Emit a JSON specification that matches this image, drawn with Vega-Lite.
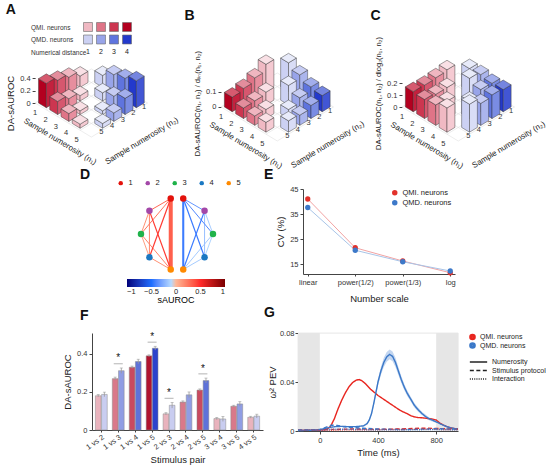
{
  "$schema": "https://vega.github.io/schema/vega-lite/v6.json",
  "background": "white",
  "padding": {"left": 5, "right": 2, "top": 3, "bottom": 2},
  "config": {
    "font": "Liberation Sans",
    "view": {"stroke": null},
    "axis": {"labelFontSize": 7.5, "titleFontSize": 9.5, "titleFontWeight": "normal", "labelColor": "#333", "titleColor": "#222", "domainColor": "#444", "tickColor": "#444", "tickSize": 3, "grid": false, "titlePadding": 4, "labelPadding": 2},
    "title": {"fontSize": 14, "fontWeight": "bold", "anchor": "start", "offset": 0, "color": "#111"},
    "legend": {"labelFontSize": 7.5, "labelColor": "#222", "titleFontWeight": "normal", "rowPadding": 1, "padding": 0, "labelLimit": 200}
  },
  "datasets": {
    "bars3d": [
      {"p": "A", "g": "QMI", "n1": 1, "n2": 2, "v": 0.18},
      {"p": "A", "g": "QMD", "n1": 2, "n2": 1, "v": 0.19},
      {"p": "A", "g": "QMI", "n1": 1, "n2": 3, "v": 0.27},
      {"p": "A", "g": "QMD", "n1": 3, "n2": 1, "v": 0.31},
      {"p": "A", "g": "QMI", "n1": 1, "n2": 4, "v": 0.33},
      {"p": "A", "g": "QMI", "n1": 2, "n2": 3, "v": 0.085},
      {"p": "A", "g": "QMD", "n1": 4, "n2": 1, "v": 0.36},
      {"p": "A", "g": "QMD", "n1": 3, "n2": 2, "v": 0.13},
      {"p": "A", "g": "QMI", "n1": 1, "n2": 5, "v": 0.39},
      {"p": "A", "g": "QMI", "n1": 2, "n2": 4, "v": 0.145},
      {"p": "A", "g": "QMD", "n1": 5, "n2": 1, "v": 0.43},
      {"p": "A", "g": "QMD", "n1": 4, "n2": 2, "v": 0.185},
      {"p": "A", "g": "QMI", "n1": 2, "n2": 5, "v": 0.21},
      {"p": "A", "g": "QMI", "n1": 3, "n2": 4, "v": 0.06},
      {"p": "A", "g": "QMD", "n1": 5, "n2": 2, "v": 0.26},
      {"p": "A", "g": "QMD", "n1": 4, "n2": 3, "v": 0.06},
      {"p": "A", "g": "QMI", "n1": 3, "n2": 5, "v": 0.125},
      {"p": "A", "g": "QMD", "n1": 5, "n2": 3, "v": 0.135},
      {"p": "A", "g": "QMI", "n1": 4, "n2": 5, "v": 0.065},
      {"p": "A", "g": "QMD", "n1": 5, "n2": 4, "v": 0.075},
      {"p": "B", "g": "QMI", "n1": 1, "n2": 2, "v": 0.18},
      {"p": "B", "g": "QMD", "n1": 2, "n2": 1, "v": 0.19},
      {"p": "B", "g": "QMI", "n1": 1, "n2": 3, "v": 0.135},
      {"p": "B", "g": "QMD", "n1": 3, "n2": 1, "v": 0.155},
      {"p": "B", "g": "QMI", "n1": 1, "n2": 4, "v": 0.11},
      {"p": "B", "g": "QMI", "n1": 2, "n2": 3, "v": 0.085},
      {"p": "B", "g": "QMD", "n1": 4, "n2": 1, "v": 0.12},
      {"p": "B", "g": "QMD", "n1": 3, "n2": 2, "v": 0.13},
      {"p": "B", "g": "QMI", "n1": 1, "n2": 5, "v": 0.0975},
      {"p": "B", "g": "QMI", "n1": 2, "n2": 4, "v": 0.0725},
      {"p": "B", "g": "QMD", "n1": 5, "n2": 1, "v": 0.1075},
      {"p": "B", "g": "QMD", "n1": 4, "n2": 2, "v": 0.0925},
      {"p": "B", "g": "QMI", "n1": 2, "n2": 5, "v": 0.07},
      {"p": "B", "g": "QMI", "n1": 3, "n2": 4, "v": 0.06},
      {"p": "B", "g": "QMD", "n1": 5, "n2": 2, "v": 0.0867},
      {"p": "B", "g": "QMD", "n1": 4, "n2": 3, "v": 0.06},
      {"p": "B", "g": "QMI", "n1": 3, "n2": 5, "v": 0.0625},
      {"p": "B", "g": "QMD", "n1": 5, "n2": 3, "v": 0.0675},
      {"p": "B", "g": "QMI", "n1": 4, "n2": 5, "v": 0.065},
      {"p": "B", "g": "QMD", "n1": 5, "n2": 4, "v": 0.075},
      {"p": "C", "g": "QMI", "n1": 1, "n2": 2, "v": 0.18},
      {"p": "C", "g": "QMD", "n1": 2, "n2": 1, "v": 0.19},
      {"p": "C", "g": "QMI", "n1": 1, "n2": 3, "v": 0.17},
      {"p": "C", "g": "QMD", "n1": 3, "n2": 1, "v": 0.196},
      {"p": "C", "g": "QMI", "n1": 1, "n2": 4, "v": 0.165},
      {"p": "C", "g": "QMI", "n1": 2, "n2": 3, "v": 0.145},
      {"p": "C", "g": "QMD", "n1": 4, "n2": 1, "v": 0.18},
      {"p": "C", "g": "QMD", "n1": 3, "n2": 2, "v": 0.222},
      {"p": "C", "g": "QMI", "n1": 1, "n2": 5, "v": 0.168},
      {"p": "C", "g": "QMI", "n1": 2, "n2": 4, "v": 0.145},
      {"p": "C", "g": "QMD", "n1": 5, "n2": 1, "v": 0.185},
      {"p": "C", "g": "QMD", "n1": 4, "n2": 2, "v": 0.185},
      {"p": "C", "g": "QMI", "n1": 2, "n2": 5, "v": 0.159},
      {"p": "C", "g": "QMI", "n1": 3, "n2": 4, "v": 0.145},
      {"p": "C", "g": "QMD", "n1": 5, "n2": 2, "v": 0.197},
      {"p": "C", "g": "QMD", "n1": 4, "n2": 3, "v": 0.145},
      {"p": "C", "g": "QMI", "n1": 3, "n2": 5, "v": 0.17},
      {"p": "C", "g": "QMD", "n1": 5, "n2": 3, "v": 0.183},
      {"p": "C", "g": "QMI", "n1": 4, "n2": 5, "v": 0.202},
      {"p": "C", "g": "QMD", "n1": 5, "n2": 4, "v": 0.233}
    ],
    "grid3d": [{"k": 0.5}, {"k": 1.5}, {"k": 2.5}, {"k": 3.5}, {"k": 4.5}, {"k": 5.5}],
    "nlab": [{"k": 1}, {"k": 2}, {"k": 3}, {"k": 4}, {"k": 5}],
    "axes3d": [{"ax": "n1", "lab": "Sample numerosity (n₁)"}, {"ax": "n2", "lab": "Sample numerosity (n₂)"}],
    "legA": [
      {"row": "QMI. neurons", "g": "QMI", "d": 1}, {"row": "QMI. neurons", "g": "QMI", "d": 2},
      {"row": "QMI. neurons", "g": "QMI", "d": 3}, {"row": "QMI. neurons", "g": "QMI", "d": 4},
      {"row": "QMD. neurons", "g": "QMD", "d": 1}, {"row": "QMD. neurons", "g": "QMD", "d": 2},
      {"row": "QMD. neurons", "g": "QMD", "d": 3}, {"row": "QMD. neurons", "g": "QMD", "d": 4},
      {"row": "Numerical distance", "g": "", "d": 1}, {"row": "Numerical distance", "g": "", "d": 2},
      {"row": "Numerical distance", "g": "", "d": 3}, {"row": "Numerical distance", "g": "", "d": 4}
    ],
    "nodes": [
      {"side": "L", "n": 1}, {"side": "L", "n": 2}, {"side": "L", "n": 3}, {"side": "L", "n": 4}, {"side": "L", "n": 5},
      {"side": "R", "n": 1}, {"side": "R", "n": 2}, {"side": "R", "n": 3}, {"side": "R", "n": 4}, {"side": "R", "n": 5}
    ],
    "edges": [
      {"side": "L", "a": 3, "b": 4, "s": 0.1, "w": 1}, {"side": "L", "a": 2, "b": 3, "s": 0.15, "w": 1},
      {"side": "L", "a": 4, "b": 5, "s": 0.15, "w": 1}, {"side": "L", "a": 2, "b": 4, "s": 0.2, "w": 1},
      {"side": "L", "a": 3, "b": 5, "s": 0.2, "w": 1}, {"side": "L", "a": 1, "b": 3, "s": 0.25, "w": 1},
      {"side": "L", "a": 1, "b": 2, "s": 0.3, "w": 1}, {"side": "L", "a": 1, "b": 5, "s": 0.33, "w": 2.4},
      {"side": "L", "a": 2, "b": 5, "s": 0.45, "w": 1.1}, {"side": "L", "a": 1, "b": 4, "s": 0.45, "w": 1.1},
      {"side": "R", "a": 3, "b": 4, "s": -0.12, "w": 1}, {"side": "R", "a": 2, "b": 3, "s": -0.15, "w": 1},
      {"side": "R", "a": 4, "b": 5, "s": -0.15, "w": 1}, {"side": "R", "a": 3, "b": 5, "s": -0.15, "w": 1},
      {"side": "R", "a": 2, "b": 4, "s": -0.2, "w": 1}, {"side": "R", "a": 1, "b": 2, "s": -0.35, "w": 1},
      {"side": "R", "a": 1, "b": 3, "s": -0.4, "w": 1}, {"side": "R", "a": 1, "b": 4, "s": -0.45, "w": 1.1},
      {"side": "R", "a": 2, "b": 5, "s": -0.45, "w": 1.1}, {"side": "R", "a": 1, "b": 5, "s": -0.45, "w": 1.5}
    ],
    "cv": [
      {"sc": "linear", "g": "QMI. neurons", "cv": 41.0},
      {"sc": "power(1/2)", "g": "QMI. neurons", "cv": 21.5},
      {"sc": "power(1/3)", "g": "QMI. neurons", "cv": 16.2},
      {"sc": "log", "g": "QMI. neurons", "cv": 11.5},
      {"sc": "linear", "g": "QMD. neurons", "cv": 37.6},
      {"sc": "power(1/2)", "g": "QMD. neurons", "cv": 20.5},
      {"sc": "power(1/3)", "g": "QMD. neurons", "cv": 15.9},
      {"sc": "log", "g": "QMD. neurons", "cv": 12.2}
    ],
    "pairs": [
      {"pair": "1 vs 2", "g": "QMI", "d": 1, "v": 0.18, "se": 0.006, "sig": false},
      {"pair": "1 vs 2", "g": "QMD", "d": 1, "v": 0.187, "se": 0.012, "sig": false},
      {"pair": "1 vs 3", "g": "QMI", "d": 2, "v": 0.27, "se": 0.008, "sig": true},
      {"pair": "1 vs 3", "g": "QMD", "d": 2, "v": 0.312, "se": 0.014, "sig": true},
      {"pair": "1 vs 4", "g": "QMI", "d": 3, "v": 0.33, "se": 0.006, "sig": false},
      {"pair": "1 vs 4", "g": "QMD", "d": 3, "v": 0.36, "se": 0.012, "sig": false},
      {"pair": "1 vs 5", "g": "QMI", "d": 4, "v": 0.39, "se": 0.005, "sig": true},
      {"pair": "1 vs 5", "g": "QMD", "d": 4, "v": 0.43, "se": 0.01, "sig": true},
      {"pair": "2 vs 3", "g": "QMI", "d": 1, "v": 0.085, "se": 0.006, "sig": true},
      {"pair": "2 vs 3", "g": "QMD", "d": 1, "v": 0.13, "se": 0.015, "sig": true},
      {"pair": "2 vs 4", "g": "QMI", "d": 2, "v": 0.147, "se": 0.006, "sig": false},
      {"pair": "2 vs 4", "g": "QMD", "d": 2, "v": 0.185, "se": 0.015, "sig": false},
      {"pair": "2 vs 5", "g": "QMI", "d": 3, "v": 0.21, "se": 0.006, "sig": true},
      {"pair": "2 vs 5", "g": "QMD", "d": 3, "v": 0.26, "se": 0.013, "sig": true},
      {"pair": "3 vs 4", "g": "QMI", "d": 1, "v": 0.06, "se": 0.006, "sig": false},
      {"pair": "3 vs 4", "g": "QMD", "d": 1, "v": 0.058, "se": 0.013, "sig": false},
      {"pair": "3 vs 5", "g": "QMI", "d": 2, "v": 0.125, "se": 0.005, "sig": false},
      {"pair": "3 vs 5", "g": "QMD", "d": 2, "v": 0.137, "se": 0.012, "sig": false},
      {"pair": "4 vs 5", "g": "QMI", "d": 1, "v": 0.067, "se": 0.005, "sig": false},
      {"pair": "4 vs 5", "g": "QMD", "d": 1, "v": 0.073, "se": 0.01, "sig": false}
    ],
    "shade": [{"t0": -150, "t1": 0}, {"t0": 800, "t1": 950}],
    "band": [
      {"t": 300, "lo": 0.0034, "hi": 0.005}, {"t": 325, "lo": 0.0051, "hi": 0.0069},
      {"t": 340, "lo": 0.0079, "hi": 0.0101}, {"t": 355, "lo": 0.0126, "hi": 0.0154},
      {"t": 370, "lo": 0.0202, "hi": 0.0238}, {"t": 385, "lo": 0.0287, "hi": 0.0333},
      {"t": 400, "lo": 0.0372, "hi": 0.0428}, {"t": 420, "lo": 0.0457, "hi": 0.0523},
      {"t": 440, "lo": 0.0523, "hi": 0.0597}, {"t": 460, "lo": 0.0566, "hi": 0.0644},
      {"t": 480, "lo": 0.0585, "hi": 0.0665}, {"t": 500, "lo": 0.057, "hi": 0.065},
      {"t": 520, "lo": 0.0523, "hi": 0.0597}, {"t": 540, "lo": 0.0457, "hi": 0.0523},
      {"t": 560, "lo": 0.0391, "hi": 0.0449}, {"t": 580, "lo": 0.0334, "hi": 0.0386},
      {"t": 600, "lo": 0.0287, "hi": 0.0333}, {"t": 625, "lo": 0.024, "hi": 0.028},
      {"t": 650, "lo": 0.0192, "hi": 0.0228}, {"t": 675, "lo": 0.0159, "hi": 0.0191},
      {"t": 700, "lo": 0.0131, "hi": 0.0159}, {"t": 750, "lo": 0.0088, "hi": 0.0112},
      {"t": 800, "lo": 0.0065, "hi": 0.0085}
    ],
    "pev": [
      {"t": -150, "g": "QMI. neurons", "f": "Numerosity", "v": 0.0005},
      {"t": -100, "g": "QMI. neurons", "f": "Numerosity", "v": 0.0005},
      {"t": -50, "g": "QMI. neurons", "f": "Numerosity", "v": 0.0006},
      {"t": 0, "g": "QMI. neurons", "f": "Numerosity", "v": 0.0008},
      {"t": 25, "g": "QMI. neurons", "f": "Numerosity", "v": 0.001},
      {"t": 50, "g": "QMI. neurons", "f": "Numerosity", "v": 0.0015},
      {"t": 75, "g": "QMI. neurons", "f": "Numerosity", "v": 0.004},
      {"t": 100, "g": "QMI. neurons", "f": "Numerosity", "v": 0.01},
      {"t": 125, "g": "QMI. neurons", "f": "Numerosity", "v": 0.018},
      {"t": 150, "g": "QMI. neurons", "f": "Numerosity", "v": 0.025},
      {"t": 175, "g": "QMI. neurons", "f": "Numerosity", "v": 0.031},
      {"t": 200, "g": "QMI. neurons", "f": "Numerosity", "v": 0.036},
      {"t": 225, "g": "QMI. neurons", "f": "Numerosity", "v": 0.0395},
      {"t": 250, "g": "QMI. neurons", "f": "Numerosity", "v": 0.0415},
      {"t": 270, "g": "QMI. neurons", "f": "Numerosity", "v": 0.042},
      {"t": 290, "g": "QMI. neurons", "f": "Numerosity", "v": 0.041},
      {"t": 310, "g": "QMI. neurons", "f": "Numerosity", "v": 0.039},
      {"t": 330, "g": "QMI. neurons", "f": "Numerosity", "v": 0.0365},
      {"t": 350, "g": "QMI. neurons", "f": "Numerosity", "v": 0.034},
      {"t": 375, "g": "QMI. neurons", "f": "Numerosity", "v": 0.0315},
      {"t": 400, "g": "QMI. neurons", "f": "Numerosity", "v": 0.029},
      {"t": 425, "g": "QMI. neurons", "f": "Numerosity", "v": 0.027},
      {"t": 450, "g": "QMI. neurons", "f": "Numerosity", "v": 0.025},
      {"t": 475, "g": "QMI. neurons", "f": "Numerosity", "v": 0.023},
      {"t": 500, "g": "QMI. neurons", "f": "Numerosity", "v": 0.021},
      {"t": 525, "g": "QMI. neurons", "f": "Numerosity", "v": 0.019},
      {"t": 550, "g": "QMI. neurons", "f": "Numerosity", "v": 0.017},
      {"t": 575, "g": "QMI. neurons", "f": "Numerosity", "v": 0.0155},
      {"t": 600, "g": "QMI. neurons", "f": "Numerosity", "v": 0.0142},
      {"t": 625, "g": "QMI. neurons", "f": "Numerosity", "v": 0.0125},
      {"t": 650, "g": "QMI. neurons", "f": "Numerosity", "v": 0.0115},
      {"t": 675, "g": "QMI. neurons", "f": "Numerosity", "v": 0.011},
      {"t": 700, "g": "QMI. neurons", "f": "Numerosity", "v": 0.0108},
      {"t": 725, "g": "QMI. neurons", "f": "Numerosity", "v": 0.0105},
      {"t": 750, "g": "QMI. neurons", "f": "Numerosity", "v": 0.0101},
      {"t": 775, "g": "QMI. neurons", "f": "Numerosity", "v": 0.0097},
      {"t": 800, "g": "QMI. neurons", "f": "Numerosity", "v": 0.009},
      {"t": 825, "g": "QMI. neurons", "f": "Numerosity", "v": 0.0065},
      {"t": 850, "g": "QMI. neurons", "f": "Numerosity", "v": 0.0048},
      {"t": 875, "g": "QMI. neurons", "f": "Numerosity", "v": 0.0035},
      {"t": 900, "g": "QMI. neurons", "f": "Numerosity", "v": 0.0026},
      {"t": 925, "g": "QMI. neurons", "f": "Numerosity", "v": 0.002},
      {"t": 950, "g": "QMI. neurons", "f": "Numerosity", "v": 0.0016},
      {"t": -150, "g": "QMD. neurons", "f": "Numerosity", "v": 0.0004},
      {"t": -100, "g": "QMD. neurons", "f": "Numerosity", "v": 0.0005},
      {"t": -50, "g": "QMD. neurons", "f": "Numerosity", "v": 0.0007},
      {"t": 0, "g": "QMD. neurons", "f": "Numerosity", "v": 0.001},
      {"t": 50, "g": "QMD. neurons", "f": "Numerosity", "v": 0.0025},
      {"t": 100, "g": "QMD. neurons", "f": "Numerosity", "v": 0.0035},
      {"t": 150, "g": "QMD. neurons", "f": "Numerosity", "v": 0.0038},
      {"t": 200, "g": "QMD. neurons", "f": "Numerosity", "v": 0.0035},
      {"t": 250, "g": "QMD. neurons", "f": "Numerosity", "v": 0.0036},
      {"t": 300, "g": "QMD. neurons", "f": "Numerosity", "v": 0.0042},
      {"t": 325, "g": "QMD. neurons", "f": "Numerosity", "v": 0.006},
      {"t": 340, "g": "QMD. neurons", "f": "Numerosity", "v": 0.009},
      {"t": 355, "g": "QMD. neurons", "f": "Numerosity", "v": 0.014},
      {"t": 370, "g": "QMD. neurons", "f": "Numerosity", "v": 0.022},
      {"t": 385, "g": "QMD. neurons", "f": "Numerosity", "v": 0.031},
      {"t": 400, "g": "QMD. neurons", "f": "Numerosity", "v": 0.04},
      {"t": 420, "g": "QMD. neurons", "f": "Numerosity", "v": 0.049},
      {"t": 440, "g": "QMD. neurons", "f": "Numerosity", "v": 0.056},
      {"t": 460, "g": "QMD. neurons", "f": "Numerosity", "v": 0.0605},
      {"t": 480, "g": "QMD. neurons", "f": "Numerosity", "v": 0.0625},
      {"t": 500, "g": "QMD. neurons", "f": "Numerosity", "v": 0.061},
      {"t": 520, "g": "QMD. neurons", "f": "Numerosity", "v": 0.056},
      {"t": 540, "g": "QMD. neurons", "f": "Numerosity", "v": 0.049},
      {"t": 560, "g": "QMD. neurons", "f": "Numerosity", "v": 0.042},
      {"t": 580, "g": "QMD. neurons", "f": "Numerosity", "v": 0.036},
      {"t": 600, "g": "QMD. neurons", "f": "Numerosity", "v": 0.031},
      {"t": 625, "g": "QMD. neurons", "f": "Numerosity", "v": 0.026},
      {"t": 650, "g": "QMD. neurons", "f": "Numerosity", "v": 0.021},
      {"t": 675, "g": "QMD. neurons", "f": "Numerosity", "v": 0.0175},
      {"t": 700, "g": "QMD. neurons", "f": "Numerosity", "v": 0.0145},
      {"t": 725, "g": "QMD. neurons", "f": "Numerosity", "v": 0.012},
      {"t": 750, "g": "QMD. neurons", "f": "Numerosity", "v": 0.01},
      {"t": 775, "g": "QMD. neurons", "f": "Numerosity", "v": 0.0088},
      {"t": 800, "g": "QMD. neurons", "f": "Numerosity", "v": 0.0075},
      {"t": 825, "g": "QMD. neurons", "f": "Numerosity", "v": 0.006},
      {"t": 850, "g": "QMD. neurons", "f": "Numerosity", "v": 0.0047},
      {"t": 875, "g": "QMD. neurons", "f": "Numerosity", "v": 0.0035},
      {"t": 900, "g": "QMD. neurons", "f": "Numerosity", "v": 0.0026},
      {"t": 925, "g": "QMD. neurons", "f": "Numerosity", "v": 0.002},
      {"t": 950, "g": "QMD. neurons", "f": "Numerosity", "v": 0.0017},
      {"t": -150, "g": "QMI. neurons", "f": "Stimulus protocol", "v": 0.0008},
      {"t": -50, "g": "QMI. neurons", "f": "Stimulus protocol", "v": 0.0009},
      {"t": 0, "g": "QMI. neurons", "f": "Stimulus protocol", "v": 0.001},
      {"t": 100, "g": "QMI. neurons", "f": "Stimulus protocol", "v": 0.0013},
      {"t": 200, "g": "QMI. neurons", "f": "Stimulus protocol", "v": 0.0016},
      {"t": 300, "g": "QMI. neurons", "f": "Stimulus protocol", "v": 0.0016},
      {"t": 400, "g": "QMI. neurons", "f": "Stimulus protocol", "v": 0.0014},
      {"t": 500, "g": "QMI. neurons", "f": "Stimulus protocol", "v": 0.0015},
      {"t": 600, "g": "QMI. neurons", "f": "Stimulus protocol", "v": 0.0019},
      {"t": 700, "g": "QMI. neurons", "f": "Stimulus protocol", "v": 0.0023},
      {"t": 800, "g": "QMI. neurons", "f": "Stimulus protocol", "v": 0.0021},
      {"t": 900, "g": "QMI. neurons", "f": "Stimulus protocol", "v": 0.0016},
      {"t": 950, "g": "QMI. neurons", "f": "Stimulus protocol", "v": 0.0014},
      {"t": -150, "g": "QMD. neurons", "f": "Stimulus protocol", "v": 0.0008},
      {"t": -50, "g": "QMD. neurons", "f": "Stimulus protocol", "v": 0.0009},
      {"t": 0, "g": "QMD. neurons", "f": "Stimulus protocol", "v": 0.0012},
      {"t": 40, "g": "QMD. neurons", "f": "Stimulus protocol", "v": 0.003},
      {"t": 80, "g": "QMD. neurons", "f": "Stimulus protocol", "v": 0.0048},
      {"t": 120, "g": "QMD. neurons", "f": "Stimulus protocol", "v": 0.0045},
      {"t": 160, "g": "QMD. neurons", "f": "Stimulus protocol", "v": 0.0036},
      {"t": 200, "g": "QMD. neurons", "f": "Stimulus protocol", "v": 0.003},
      {"t": 250, "g": "QMD. neurons", "f": "Stimulus protocol", "v": 0.0026},
      {"t": 300, "g": "QMD. neurons", "f": "Stimulus protocol", "v": 0.0022},
      {"t": 400, "g": "QMD. neurons", "f": "Stimulus protocol", "v": 0.0016},
      {"t": 500, "g": "QMD. neurons", "f": "Stimulus protocol", "v": 0.0013},
      {"t": 600, "g": "QMD. neurons", "f": "Stimulus protocol", "v": 0.0012},
      {"t": 700, "g": "QMD. neurons", "f": "Stimulus protocol", "v": 0.0015},
      {"t": 800, "g": "QMD. neurons", "f": "Stimulus protocol", "v": 0.0019},
      {"t": 900, "g": "QMD. neurons", "f": "Stimulus protocol", "v": 0.0017},
      {"t": 950, "g": "QMD. neurons", "f": "Stimulus protocol", "v": 0.0015},
      {"t": -150, "g": "QMI. neurons", "f": "Interaction", "v": 0.0005},
      {"t": 0, "g": "QMI. neurons", "f": "Interaction", "v": 0.0006},
      {"t": 150, "g": "QMI. neurons", "f": "Interaction", "v": 0.0009},
      {"t": 300, "g": "QMI. neurons", "f": "Interaction", "v": 0.001},
      {"t": 450, "g": "QMI. neurons", "f": "Interaction", "v": 0.0011},
      {"t": 600, "g": "QMI. neurons", "f": "Interaction", "v": 0.0013},
      {"t": 750, "g": "QMI. neurons", "f": "Interaction", "v": 0.0014},
      {"t": 950, "g": "QMI. neurons", "f": "Interaction", "v": 0.0011},
      {"t": -150, "g": "QMD. neurons", "f": "Interaction", "v": 0.0005},
      {"t": 0, "g": "QMD. neurons", "f": "Interaction", "v": 0.0007},
      {"t": 100, "g": "QMD. neurons", "f": "Interaction", "v": 0.0015},
      {"t": 200, "g": "QMD. neurons", "f": "Interaction", "v": 0.0014},
      {"t": 350, "g": "QMD. neurons", "f": "Interaction", "v": 0.001},
      {"t": 500, "g": "QMD. neurons", "f": "Interaction", "v": 0.0009},
      {"t": 650, "g": "QMD. neurons", "f": "Interaction", "v": 0.001},
      {"t": 800, "g": "QMD. neurons", "f": "Interaction", "v": 0.0012},
      {"t": 950, "g": "QMD. neurons", "f": "Interaction", "v": 0.001}
    ]
  },
  "spacing": -11,
  "center": false,
  "resolve": {"scale": {"color": "independent", "fill": "independent", "stroke": "independent", "strokeDash": "independent", "strokeWidth": "independent"}, "legend": {"color": "independent", "fill": "independent", "stroke": "independent", "strokeDash": "independent"}},
  "vconcat": [
    {
      "hconcat": [
        {
          "title": {"text": "A"},
          "center": true,
          "spacing": 4,
          "vconcat": [
            {
              "width": 52,
              "height": 25,
              "data": {"name": "legA"},
              "transform": [{"calculate": "datum.g + datum.d", "as": "ck"}],
              "encoding": {
                "x": {"field": "d", "type": "ordinal", "axis": null},
                "y": {"field": "row", "type": "nominal", "sort": ["QMI. neurons", "QMD. neurons", "Numerical distance"], "scale": {"padding": 0}, "axis": {"title": null, "domain": false, "ticks": false, "labelAlign": "left", "labelPadding": 51, "labelFontSize": 6.5}}
              },
              "layer": [
                {
                  "transform": [{"filter": "datum.g != ''"}],
                  "mark": {"type": "square", "size": 80, "opacity": 1, "stroke": "#666", "strokeWidth": 0.6},
                  "encoding": {
                    "fill": {"field": "ck", "type": "nominal", "scale": {"domain": ["QMI1", "QMI2", "QMI3", "QMI4", "QMD1", "QMD2", "QMD3", "QMD4"], "range": ["#f0b9c3", "#df7487", "#cc3650", "#b3001f", "#ccd1f3", "#98a4e9", "#5f74de", "#2339cc"]}, "legend": null}
                  }
                },
                {
                  "transform": [{"filter": "datum.g == ''"}],
                  "mark": {"type": "text", "fontSize": 7, "color": "#222"},
                  "encoding": {"text": {"field": "d"}}
                }
              ]
            },
            {
              "width": 135,
              "height": 115,
              "encoding": {
                "x": {"field": "px", "type": "quantitative", "scale": {"domain": [-5, 7], "nice": false, "zero": false}, "axis": null},
                "y": {"field": "py", "type": "quantitative", "stack": null, "scale": {"domain": [-1.152, 0.688], "nice": false, "zero": false}, "axis": {"values": [0, 0.2, 0.4], "format": "~g", "domain": false, "title": "DA-sAUROC", "titleFontSize": 9.5, "titleY": 43}}
              },
              "layer": [
                {
                  "data": {"name": "grid3d"},
                  "transform": [
                    {"calculate": "[datum.k, datum.k, 0.5, 5.5]", "as": "gn1"},
                    {"calculate": "[0.5, 5.5, datum.k, datum.k]", "as": "gn2"},
                    {"calculate": "['a', 'a', 'b', 'b']", "as": "gd"},
                    {"flatten": ["gn1", "gn2", "gd"]},
                    {"calculate": "datum.gn1 - datum.gn2", "as": "px"},
                    {"calculate": "(6 - datum.gn1 - datum.gn2) * 0.109", "as": "py"},
                    {"calculate": "datum.gd + datum.k", "as": "gid"}
                  ],
                  "mark": {"type": "line", "color": "#dadada", "strokeWidth": 0.5},
                  "encoding": {"detail": {"field": "gid"}}
                },
                {
                  "data": {"name": "nlab"},
                  "transform": [{"filter": "datum.k == 1"}],
                  "mark": {"type": "rule", "color": "#444", "strokeWidth": 0.7},
                  "encoding": {"x": {"datum": -5}, "y": {"datum": 0}, "y2": {"datum": 0.45}}
                },
                {
                  "data": {"name": "bars3d"},
                  "transform": [
                    {"filter": "datum.p == 'A'"},
                    {"calculate": "datum.n1 - datum.n2", "as": "X0"},
                    {"calculate": "(6 - datum.n1 - datum.n2) * 0.109", "as": "Y0"},
                    {"calculate": "[datum.X0 - 0.7, datum.X0, datum.X0, datum.X0 + 0.7, datum.X0 - 0.7, datum.X0, datum.X0 + 0.7]", "as": "px"},
                    {"calculate": "[datum.Y0, datum.Y0 - 0.0763, datum.Y0 - 0.0763, datum.Y0, datum.Y0 + datum.v, datum.Y0 - 0.0763 + datum.v, datum.Y0 + datum.v]", "as": "py"},
                    {"calculate": "[datum.Y0 + datum.v, datum.Y0 - 0.0763 + datum.v, datum.Y0 - 0.0763 + datum.v, datum.Y0 + datum.v, datum.Y0 + datum.v, datum.Y0 + 0.0763 + datum.v, datum.Y0 + datum.v]", "as": "py2"},
                    {"calculate": "['L', 'L', 'R', 'R', 'T', 'T', 'T']", "as": "ff"},
                    {"flatten": ["px", "py", "py2", "ff"]},
                    {"calculate": "datum.g + datum.n1 + datum.n2 + datum.ff", "as": "fid"},
                    {"calculate": "datum.g + abs(datum.n1 - datum.n2) + datum.ff", "as": "ck"}
                  ],
                  "mark": {"type": "area", "stroke": "#333", "strokeWidth": 0.45, "strokeJoin": "round", "opacity": 1},
                  "encoding": {
                    "y2": {"field": "py2"},
                    "color": {"field": "ck", "type": "nominal", "legend": null, "scale": {
                      "domain": ["QMI1L", "QMI1R", "QMI1T", "QMI2L", "QMI2R", "QMI2T", "QMI3L", "QMI3R", "QMI3T", "QMI4L", "QMI4R", "QMI4T", "QMD1L", "QMD1R", "QMD1T", "QMD2L", "QMD2R", "QMD2T", "QMD3L", "QMD3R", "QMD3T", "QMD4L", "QMD4R", "QMD4T"],
                      "range": ["#f0b9c3", "#f5cad2", "#f9e0e5", "#df7487", "#e78e9e", "#f0b6c0", "#cc3650", "#d6576e", "#e38d9c", "#b3001f", "#c3213e", "#d65a6f", "#ccd1f3", "#d9ddf6", "#e8ebfa", "#98a4e9", "#abb5ed", "#c6ccf3", "#5f74de", "#7a8ce3", "#a2aeec", "#2339cc", "#4256d4", "#7585e0"]}},
                    "detail": {"field": "fid"}
                  }
                },
                {
                  "data": {"name": "nlab"},
                  "transform": [{"calculate": "-5 + (datum.k - 1) * 0.92", "as": "px"}, {"calculate": "-(1.47 + (datum.k - 1) * 0.99) * 0.109", "as": "py"}],
                  "mark": {"type": "text", "fontSize": 7.5, "color": "#333"},
                  "encoding": {"text": {"field": "k"}}
                },
                {
                  "data": {"name": "nlab"},
                  "transform": [{"calculate": "0.89 + (5 - datum.k) * 0.95", "as": "px"}, {"calculate": "-(4.26 - (5 - datum.k) * 0.915) * 0.109", "as": "py"}],
                  "mark": {"type": "text", "fontSize": 7.5, "color": "#333"},
                  "encoding": {"text": {"field": "k"}}
                },
                {
                  "data": {"name": "axes3d"},
                  "transform": [{"calculate": "datum.ax == 'n1' ? -2.8 : 4.5", "as": "px"}, {"calculate": "(datum.ax == 'n1' ? -5.7 : -5.6) * 0.109", "as": "py"}, {"calculate": "datum.ax == 'n1' ? 31 : -31", "as": "ang"}],
                  "mark": {"type": "text", "fontSize": 8, "color": "#222"},
                  "encoding": {"text": {"field": "lab"}, "angle": {"field": "ang", "type": "quantitative", "scale": null}}
                }
              ]
            }
          ]
        },
        {
          "title": {"text": "B", "dx": -9},
          "width": 135,
          "height": 152,
          "encoding": {
            "x": {"field": "px", "type": "quantitative", "scale": {"domain": [-5, 7], "nice": false, "zero": false}, "axis": null},
            "y": {"field": "py", "type": "quantitative", "stack": null, "scale": {"domain": [-0.48, 0.533], "nice": false, "zero": false}, "axis": {"values": [0, 0.1], "format": "~g", "domain": false, "title": "DA-sAUROC(n₁, n₂) / dₗᵢₙ(n₁, n₂)", "titleFontSize": 7.5, "titleY": 76}}
          },
          "layer": [
            {
              "data": {"name": "grid3d"},
              "transform": [
                {"calculate": "[datum.k, datum.k, 0.5, 5.5]", "as": "gn1"},
                {"calculate": "[0.5, 5.5, datum.k, datum.k]", "as": "gn2"},
                {"calculate": "['a', 'a', 'b', 'b']", "as": "gd"},
                {"flatten": ["gn1", "gn2", "gd"]},
                {"calculate": "datum.gn1 - datum.gn2", "as": "px"},
                {"calculate": "(6 - datum.gn1 - datum.gn2) * 0.0453", "as": "py"},
                {"calculate": "datum.gd + datum.k", "as": "gid"}
              ],
              "mark": {"type": "line", "color": "#dadada", "strokeWidth": 0.5},
              "encoding": {"detail": {"field": "gid"}}
            },
            {
              "data": {"name": "nlab"},
              "transform": [{"filter": "datum.k == 1"}],
              "mark": {"type": "rule", "color": "#444", "strokeWidth": 0.7},
              "encoding": {"x": {"datum": -5}, "y": {"datum": 0}, "y2": {"datum": 0.2}}
            },
            {
              "data": {"name": "bars3d"},
              "transform": [
                {"filter": "datum.p == 'B'"},
                {"calculate": "datum.n1 - datum.n2", "as": "X0"},
                {"calculate": "(6 - datum.n1 - datum.n2) * 0.0453", "as": "Y0"},
                {"calculate": "[datum.X0 - 0.7, datum.X0, datum.X0, datum.X0 + 0.7, datum.X0 - 0.7, datum.X0, datum.X0 + 0.7]", "as": "px"},
                {"calculate": "[datum.Y0, datum.Y0 - 0.0317, datum.Y0 - 0.0317, datum.Y0, datum.Y0 + datum.v, datum.Y0 - 0.0317 + datum.v, datum.Y0 + datum.v]", "as": "py"},
                {"calculate": "[datum.Y0 + datum.v, datum.Y0 - 0.0317 + datum.v, datum.Y0 - 0.0317 + datum.v, datum.Y0 + datum.v, datum.Y0 + datum.v, datum.Y0 + 0.0317 + datum.v, datum.Y0 + datum.v]", "as": "py2"},
                {"calculate": "['L', 'L', 'R', 'R', 'T', 'T', 'T']", "as": "ff"},
                {"flatten": ["px", "py", "py2", "ff"]},
                {"calculate": "datum.g + datum.n1 + datum.n2 + datum.ff", "as": "fid"},
                {"calculate": "datum.g + abs(datum.n1 - datum.n2) + datum.ff", "as": "ck"}
              ],
              "mark": {"type": "area", "stroke": "#333", "strokeWidth": 0.45, "strokeJoin": "round", "opacity": 1},
              "encoding": {
                "y2": {"field": "py2"},
                "color": {"field": "ck", "type": "nominal", "legend": null, "scale": {
                  "domain": ["QMI1L", "QMI1R", "QMI1T", "QMI2L", "QMI2R", "QMI2T", "QMI3L", "QMI3R", "QMI3T", "QMI4L", "QMI4R", "QMI4T", "QMD1L", "QMD1R", "QMD1T", "QMD2L", "QMD2R", "QMD2T", "QMD3L", "QMD3R", "QMD3T", "QMD4L", "QMD4R", "QMD4T"],
                  "range": ["#f0b9c3", "#f5cad2", "#f9e0e5", "#df7487", "#e78e9e", "#f0b6c0", "#cc3650", "#d6576e", "#e38d9c", "#b3001f", "#c3213e", "#d65a6f", "#ccd1f3", "#d9ddf6", "#e8ebfa", "#98a4e9", "#abb5ed", "#c6ccf3", "#5f74de", "#7a8ce3", "#a2aeec", "#2339cc", "#4256d4", "#7585e0"]}},
                "detail": {"field": "fid"}
              }
            },
            {
              "data": {"name": "nlab"},
              "transform": [{"calculate": "-5 + (datum.k - 1) * 0.92", "as": "px"}, {"calculate": "-(1.47 + (datum.k - 1) * 0.99) * 0.0453", "as": "py"}],
              "mark": {"type": "text", "fontSize": 7.5, "color": "#333"},
              "encoding": {"text": {"field": "k"}}
            },
            {
              "data": {"name": "nlab"},
              "transform": [{"calculate": "0.89 + (5 - datum.k) * 0.95", "as": "px"}, {"calculate": "-(4.26 - (5 - datum.k) * 0.915) * 0.0453", "as": "py"}],
              "mark": {"type": "text", "fontSize": 7.5, "color": "#333"},
              "encoding": {"text": {"field": "k"}}
            },
            {
              "data": {"name": "axes3d"},
              "transform": [{"calculate": "datum.ax == 'n1' ? -2.8 : 4.5", "as": "px"}, {"calculate": "(datum.ax == 'n1' ? -5.7 : -5.6) * 0.0453", "as": "py"}, {"calculate": "datum.ax == 'n1' ? 31 : -31", "as": "ang"}],
              "mark": {"type": "text", "fontSize": 8, "color": "#222"},
              "encoding": {"text": {"field": "lab"}, "angle": {"field": "ang", "type": "quantitative", "scale": null}}
            }
          ]
        },
        {
          "title": {"text": "C", "dx": -4},
          "width": 135,
          "height": 152,
          "encoding": {
            "x": {"field": "px", "type": "quantitative", "scale": {"domain": [-5, 7], "nice": false, "zero": false}, "axis": null},
            "y": {"field": "py", "type": "quantitative", "stack": null, "scale": {"domain": [-0.6, 0.667], "nice": false, "zero": false}, "axis": {"values": [0, 0.1, 0.2], "format": "~g", "domain": false, "title": "DA-sAUROC(n₁, n₂) / dlog₂(n₁, n₂)", "titleFontSize": 7.5, "titleY": 66}}
          },
          "layer": [
            {
              "data": {"name": "grid3d"},
              "transform": [
                {"calculate": "[datum.k, datum.k, 0.5, 5.5]", "as": "gn1"},
                {"calculate": "[0.5, 5.5, datum.k, datum.k]", "as": "gn2"},
                {"calculate": "['a', 'a', 'b', 'b']", "as": "gd"},
                {"flatten": ["gn1", "gn2", "gd"]},
                {"calculate": "datum.gn1 - datum.gn2", "as": "px"},
                {"calculate": "(6 - datum.gn1 - datum.gn2) * 0.0567", "as": "py"},
                {"calculate": "datum.gd + datum.k", "as": "gid"}
              ],
              "mark": {"type": "line", "color": "#dadada", "strokeWidth": 0.5},
              "encoding": {"detail": {"field": "gid"}}
            },
            {
              "data": {"name": "nlab"},
              "transform": [{"filter": "datum.k == 1"}],
              "mark": {"type": "rule", "color": "#444", "strokeWidth": 0.7},
              "encoding": {"x": {"datum": -5}, "y": {"datum": 0}, "y2": {"datum": 0.25}}
            },
            {
              "data": {"name": "bars3d"},
              "transform": [
                {"filter": "datum.p == 'C'"},
                {"calculate": "datum.n1 - datum.n2", "as": "X0"},
                {"calculate": "(6 - datum.n1 - datum.n2) * 0.0567", "as": "Y0"},
                {"calculate": "[datum.X0 - 0.7, datum.X0, datum.X0, datum.X0 + 0.7, datum.X0 - 0.7, datum.X0, datum.X0 + 0.7]", "as": "px"},
                {"calculate": "[datum.Y0, datum.Y0 - 0.0397, datum.Y0 - 0.0397, datum.Y0, datum.Y0 + datum.v, datum.Y0 - 0.0397 + datum.v, datum.Y0 + datum.v]", "as": "py"},
                {"calculate": "[datum.Y0 + datum.v, datum.Y0 - 0.0397 + datum.v, datum.Y0 - 0.0397 + datum.v, datum.Y0 + datum.v, datum.Y0 + datum.v, datum.Y0 + 0.0397 + datum.v, datum.Y0 + datum.v]", "as": "py2"},
                {"calculate": "['L', 'L', 'R', 'R', 'T', 'T', 'T']", "as": "ff"},
                {"flatten": ["px", "py", "py2", "ff"]},
                {"calculate": "datum.g + datum.n1 + datum.n2 + datum.ff", "as": "fid"},
                {"calculate": "datum.g + abs(datum.n1 - datum.n2) + datum.ff", "as": "ck"}
              ],
              "mark": {"type": "area", "stroke": "#333", "strokeWidth": 0.45, "strokeJoin": "round", "opacity": 1},
              "encoding": {
                "y2": {"field": "py2"},
                "color": {"field": "ck", "type": "nominal", "legend": null, "scale": {
                  "domain": ["QMI1L", "QMI1R", "QMI1T", "QMI2L", "QMI2R", "QMI2T", "QMI3L", "QMI3R", "QMI3T", "QMI4L", "QMI4R", "QMI4T", "QMD1L", "QMD1R", "QMD1T", "QMD2L", "QMD2R", "QMD2T", "QMD3L", "QMD3R", "QMD3T", "QMD4L", "QMD4R", "QMD4T"],
                  "range": ["#f0b9c3", "#f5cad2", "#f9e0e5", "#df7487", "#e78e9e", "#f0b6c0", "#cc3650", "#d6576e", "#e38d9c", "#b3001f", "#c3213e", "#d65a6f", "#ccd1f3", "#d9ddf6", "#e8ebfa", "#98a4e9", "#abb5ed", "#c6ccf3", "#5f74de", "#7a8ce3", "#a2aeec", "#2339cc", "#4256d4", "#7585e0"]}},
                "detail": {"field": "fid"}
              }
            },
            {
              "data": {"name": "nlab"},
              "transform": [{"calculate": "-5 + (datum.k - 1) * 0.92", "as": "px"}, {"calculate": "-(1.47 + (datum.k - 1) * 0.99) * 0.0567", "as": "py"}],
              "mark": {"type": "text", "fontSize": 7.5, "color": "#333"},
              "encoding": {"text": {"field": "k"}}
            },
            {
              "data": {"name": "nlab"},
              "transform": [{"calculate": "0.89 + (5 - datum.k) * 0.95", "as": "px"}, {"calculate": "-(4.26 - (5 - datum.k) * 0.915) * 0.0567", "as": "py"}],
              "mark": {"type": "text", "fontSize": 7.5, "color": "#333"},
              "encoding": {"text": {"field": "k"}}
            },
            {
              "data": {"name": "axes3d"},
              "transform": [{"calculate": "datum.ax == 'n1' ? -2.8 : 4.5", "as": "px"}, {"calculate": "(datum.ax == 'n1' ? -5.7 : -5.6) * 0.0567", "as": "py"}, {"calculate": "datum.ax == 'n1' ? 31 : -31", "as": "ang"}],
              "mark": {"type": "text", "fontSize": 8, "color": "#222"},
              "encoding": {"text": {"field": "lab"}, "angle": {"field": "ang", "type": "quantitative", "scale": null}}
            }
          ]
        }
      ],
      "spacing": 4
    },
    {
      "spacing": 0,
      "center": false,
      "resolve": {"scale": {"color": "independent", "fill": "independent", "stroke": "independent", "strokeDash": "independent", "strokeWidth": "independent"}, "legend": {"color": "independent", "fill": "independent", "stroke": "independent", "strokeDash": "independent"}},
      "vconcat": [
        {
          "spacing": 23,
          "resolve": {"scale": {"color": "independent", "fill": "independent", "stroke": "independent", "strokeWidth": "independent"}, "legend": {"color": "independent", "fill": "independent", "stroke": "independent"}},
          "hconcat": [
            {
              "title": {"text": "D", "dx": 45, "frame": "group", "offset": -3},
              "width": 202,
              "height": 85,
              "encoding": {
                "x": {"field": "X", "type": "quantitative", "scale": {"domain": [-3.944, 1.667], "nice": false, "zero": false}, "axis": null},
                "y": {"field": "Y", "type": "quantitative", "scale": {"domain": [-1.111, 1.25], "nice": false, "zero": false}, "axis": null}
              },
              "layer": [
                {
                  "data": {"name": "edges"},
                  "transform": [
                    {"calculate": "datum.side + datum.a + '-' + datum.b", "as": "eid"},
                    {"fold": ["a", "b"], "as": ["end", "n"]},
                    {"calculate": "datum.side == 'L' ? 100 + (datum.n - 1) * 40 : 80 - (datum.n - 1) * 40", "as": "ang"},
                    {"calculate": "cos(datum.ang * PI / 180)", "as": "X"},
                    {"calculate": "sin(datum.ang * PI / 180)", "as": "Y"}
                  ],
                  "mark": {"type": "line", "strokeCap": "round"},
                  "encoding": {
                    "detail": {"field": "eid"},
                    "stroke": {"field": "s", "type": "quantitative", "scale": {"domain": [-1, -0.5, 0, 0.5, 1], "range": ["#00007a", "#1f6fff", "#ffffff", "#ff2a2a", "#7a0000"]}, "legend": {"orient": "none", "legendX": 92, "legendY": 90, "direction": "horizontal", "title": "sAUROC", "titleOrient": "bottom", "titleAnchor": "middle", "titleFontSize": 9, "titlePadding": 0, "gradientLength": 98, "gradientThickness": 8, "values": [-1, -0.5, 0, 0.5, 1], "format": "~g", "labelFontSize": 7.5, "labelOffset": 1}},
                    "strokeWidth": {"field": "w", "type": "quantitative", "scale": {"type": "identity"}, "legend": null}
                  }
                },
                {
                  "data": {"name": "nodes"},
                  "transform": [
                    {"calculate": "datum.side == 'L' ? 100 + (datum.n - 1) * 40 : 80 - (datum.n - 1) * 40", "as": "ang"},
                    {"calculate": "cos(datum.ang * PI / 180)", "as": "X"},
                    {"calculate": "sin(datum.ang * PI / 180)", "as": "Y"}
                  ],
                  "mark": {"type": "circle", "size": 42, "opacity": 1},
                  "encoding": {
                    "fill": {"field": "n", "type": "nominal", "scale": {"domain": [1, 2, 3, 4, 5], "range": ["#e3120b", "#a347a8", "#1fb24a", "#1a78c2", "#ff8a00"]}, "legend": {"orient": "none", "legendX": 82, "legendY": -10, "direction": "horizontal", "title": null, "symbolType": "circle", "symbolSize": 20, "labelFontSize": 7.5, "columnPadding": 11}}
                  }
                }
              ]
            },
            {
              "title": {"text": "E", "dx": -39, "frame": "group", "offset": 3},
              "width": 152,
              "height": 85,
              "data": {"name": "cv"},
              "encoding": {
                "x": {"field": "sc", "type": "ordinal", "sort": ["linear", "power(1/2)", "power(1/3)", "log"], "scale": {"type": "point", "padding": 0.1}, "axis": {"title": "Number scale", "labelAngle": 0, "tickSize": 2, "titlePadding": 8}},
                "y": {"field": "cv", "type": "quantitative", "scale": {"domain": [11, 45], "nice": false, "zero": false}, "axis": {"values": [15, 25, 35, 45], "title": "CV (%)"}}
              },
              "layer": [
                {
                  "transform": [{"filter": "datum.g == 'QMI. neurons'"}],
                  "mark": {"type": "line", "strokeWidth": 1, "color": "#f2a3a3"},
                  "encoding": {"order": {"value": null}}
                },
                {
                  "transform": [{"filter": "datum.g == 'QMD. neurons'"}],
                  "mark": {"type": "line", "strokeWidth": 1, "color": "#a9c5e8"},
                  "encoding": {"order": {"value": null}}
                },
                {
                  "mark": {"type": "circle", "size": 28, "opacity": 1},
                  "encoding": {"fill": {"field": "g", "type": "nominal", "scale": {"domain": ["QMI. neurons", "QMD. neurons"], "range": ["#e2312b", "#3d79c9"]}, "legend": {"orient": "none", "legendX": 88, "legendY": 0, "title": null, "symbolType": "circle", "symbolSize": 30, "labelFontSize": 7.5}}}
                }
              ]
            }
          ]
        },
        {
          "spacing": 0,
          "resolve": {"scale": {"color": "independent", "strokeDash": "independent"}, "legend": {"color": "independent", "strokeDash": "independent"}},
          "hconcat": [
            {
              "title": {"text": "F", "dx": 45, "frame": "group", "offset": 9},
              "width": 228,
              "height": 97,
              "data": {"name": "pairs"},
              "transform": [
                {"calculate": "datum.v - datum.se", "as": "lo"},
                {"calculate": "datum.v + datum.se", "as": "hi"},
                {"calculate": "datum.g + datum.d", "as": "ck"}
              ],
              "encoding": {
                "x": {"field": "pair", "type": "nominal", "sort": null, "scale": {"paddingInner": 0.3, "paddingOuter": 0.2, "range": [57, 228]}, "axis": {"title": "Stimulus pair", "labelAngle": -35, "tickSize": 2, "titlePadding": 4, "labelPadding": 1}}
              },
              "layer": [
                {
                  "mark": {"type": "bar", "stroke": "#8a8a8a", "strokeWidth": 0.5},
                  "encoding": {
                    "xOffset": {"field": "g", "type": "nominal", "sort": ["QMI", "QMD"], "scale": {"paddingInner": 0.08}},
                    "y": {"field": "v", "type": "quantitative", "scale": {"domain": [0, 0.51], "nice": false}, "axis": {"values": [0, 0.1, 0.2, 0.3, 0.4, 0.5], "format": "~g", "title": "DA-sAUROC", "offset": -57}},
                    "color": {"field": "ck", "type": "nominal", "scale": {"domain": ["QMI1", "QMI2", "QMI3", "QMI4", "QMD1", "QMD2", "QMD3", "QMD4"], "range": ["#e9b3bd", "#d9798a", "#c94a5f", "#b0142f", "#c9cdf0", "#909de4", "#5e72d9", "#2c43cc"]}, "legend": null}
                  }
                },
                {
                  "mark": {"type": "rule", "color": "#9a9a9a", "strokeWidth": 0.8},
                  "encoding": {
                    "xOffset": {"field": "g", "type": "nominal", "sort": ["QMI", "QMD"], "scale": {"paddingInner": 0.08}},
                    "y": {"field": "lo", "type": "quantitative"},
                    "y2": {"field": "hi"}
                  }
                },
                {
                  "mark": {"type": "tick", "color": "#9a9a9a", "thickness": 0.8, "size": 3},
                  "encoding": {
                    "xOffset": {"field": "g", "type": "nominal", "sort": ["QMI", "QMD"], "scale": {"paddingInner": 0.08}},
                    "y": {"field": "hi", "type": "quantitative"}
                  }
                },
                {
                  "transform": [{"filter": "datum.sig && datum.g == 'QMD'"}, {"calculate": "datum.hi + 0.022", "as": "yb"}],
                  "mark": {"type": "tick", "color": "#777", "thickness": 0.8, "size": 9},
                  "encoding": {"y": {"field": "yb", "type": "quantitative"}}
                },
                {
                  "transform": [{"filter": "datum.sig && datum.g == 'QMD'"}, {"calculate": "datum.hi + 0.05", "as": "ys"}],
                  "mark": {"type": "text", "fontSize": 10, "baseline": "middle", "color": "#111"},
                  "encoding": {"y": {"field": "ys", "type": "quantitative"}, "text": {"value": "*"}}
                }
              ]
            },
            {
              "title": {"text": "G", "dx": -34, "frame": "group", "offset": 9},
              "width": 160,
              "height": 98,
              "view": {"stroke": "#d4d4d4", "strokeWidth": 0.6},
              "layer": [
                {
                  "data": {"name": "shade"},
                  "mark": {"type": "rect", "color": "#e6e6e6"},
                  "encoding": {
                    "x": {"field": "t0", "type": "quantitative", "scale": {"domain": [-150, 950], "nice": false, "zero": false}, "axis": {"values": [0, 400, 800], "title": "Time (ms)", "titlePadding": 4}},
                    "x2": {"field": "t1"}
                  }
                },
                {
                  "data": {"name": "band"},
                  "mark": {"type": "area", "color": "#bcd2ee", "opacity": 0.9},
                  "encoding": {
                    "x": {"field": "t", "type": "quantitative"},
                    "y": {"field": "lo", "type": "quantitative", "scale": {"domain": [0, 0.08], "nice": false}, "axis": {"values": [0, 0.02, 0.04, 0.06, 0.08], "format": "~g", "title": "ω² PEV", "titlePadding": 2, "labelPadding": 1}},
                    "y2": {"field": "hi"}
                  }
                },
                {
                  "data": {"name": "pev"},
                  "mark": {"type": "line", "strokeWidth": 1.4},
                  "encoding": {
                    "x": {"field": "t", "type": "quantitative"},
                    "y": {"field": "v", "type": "quantitative"},
                    "color": {"field": "g", "type": "nominal", "scale": {"domain": ["QMI. neurons", "QMD. neurons"], "range": ["#e8251f", "#3b78c8"]}, "legend": {"title": null, "orient": "right", "symbolType": "circle", "symbolSize": 10, "symbolStrokeWidth": 3.5, "labelFontSize": 7, "clipHeight": 8, "rowPadding": 0.5, "offset": 8}},
                    "strokeDash": {"field": "f", "type": "nominal", "scale": {"domain": ["Numerosity", "Stimulus protocol", "Interaction"], "range": [[1, 0], [4, 2.5], [1, 1.2]]}, "legend": {"title": null, "orient": "right", "symbolStrokeColor": "#222", "symbolSize": 300, "symbolStrokeWidth": 1.4, "labelFontSize": 7, "clipHeight": 8, "rowPadding": 0.5, "offset": 8}}
                  }
                }
              ]
            }
          ]
        }
      ]
    }
  ]
}
